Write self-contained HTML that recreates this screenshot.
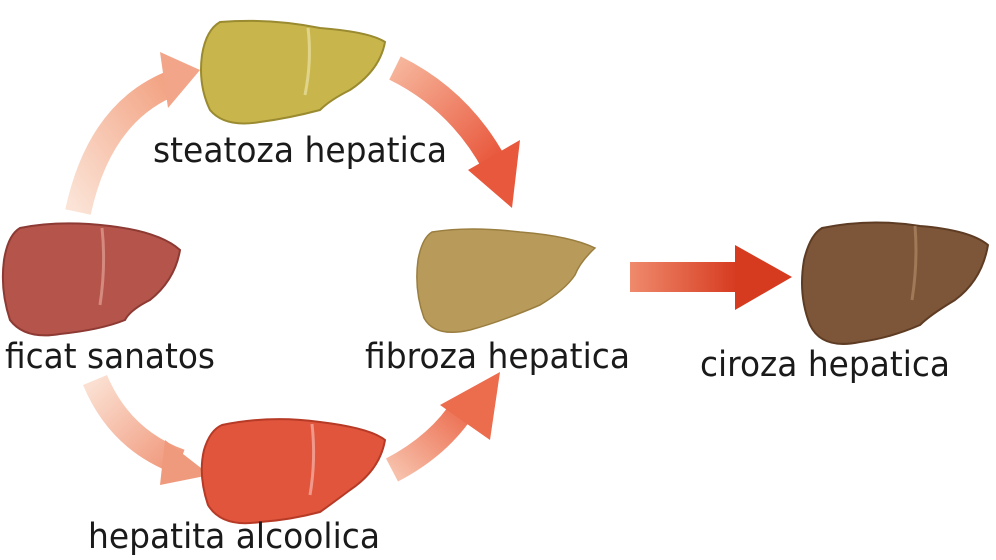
<!DOCTYPE html>
<html><head><meta charset="utf-8"><style>
html,body{margin:0;padding:0;background:#fff;width:996px;height:560px;overflow:hidden}
svg{display:block}
text{font-family:"DejaVu Sans","Liberation Sans",sans-serif;font-size:35px;fill:#1a1a1a}
</style></head><body>
<svg width="996" height="560" viewBox="0 0 996 560" xmlns="http://www.w3.org/2000/svg">
<defs>
<linearGradient id="g1" x1="0" y1="1" x2="1" y2="0"><stop offset="0" stop-color="#fbe3d6"/><stop offset="1" stop-color="#f2a07f"/></linearGradient>
<linearGradient id="g2" x1="0" y1="0" x2="1" y2="1"><stop offset="0" stop-color="#f6b49a"/><stop offset="1" stop-color="#e8553a"/></linearGradient>
<linearGradient id="g3" x1="0" y1="0" x2="1" y2="1"><stop offset="0" stop-color="#fbe0d2"/><stop offset="1" stop-color="#f0977a"/></linearGradient>
<linearGradient id="g4" x1="0" y1="1" x2="1" y2="0"><stop offset="0" stop-color="#f7c0aa"/><stop offset="1" stop-color="#eb6a4c"/></linearGradient>
<linearGradient id="g5" x1="0" y1="0" x2="1" y2="0"><stop offset="0" stop-color="#ef8a6c"/><stop offset="1" stop-color="#d63a1f"/></linearGradient>
</defs>
<path d="M78 212 Q100 110 175 82" fill="none" stroke="url(#g1)" stroke-width="26"/>
<polygon points="160,52 200,70 168,108" fill="#f2a588"/>
<path d="M395 68 Q460 100 495 165" fill="none" stroke="url(#g2)" stroke-width="26"/>
<polygon points="468,170 520,140 512,208" fill="#e8583c"/>
<path d="M95 380 Q120 440 180 462" fill="none" stroke="url(#g3)" stroke-width="26"/>
<polygon points="165,440 210,475 160,485" fill="#ef9a7c"/>
<path d="M392 470 Q440 445 465 405" fill="none" stroke="url(#g4)" stroke-width="26"/>
<polygon points="440,405 500,372 490,440" fill="#ec6c4e"/>
<rect x="630" y="262" width="108" height="30" fill="url(#g5)"/>
<polygon points="735,245 792,277 735,310" fill="#d63a1f"/>
<path d="M20 228 Q60 220 110 226 Q160 232 180 250 Q175 280 150 300 Q130 310 125 320 Q100 330 60 334 Q25 340 10 320 Q0 290 4 260 Q8 235 20 228Z" fill="#b4544a" stroke="#8c3a33" stroke-width="2"/>
<path d="M102 228 Q106 265 100 305" stroke="#d58a80" stroke-width="3" fill="none"/>
<path d="M220 22 Q270 18 320 28 Q370 32 385 42 Q380 70 350 90 Q330 100 320 110 Q290 118 260 122 Q225 128 210 110 Q198 85 202 55 Q206 30 220 22Z" fill="#c8b64c" stroke="#9a8a30" stroke-width="2"/>
<path d="M308 28 Q312 60 305 95" stroke="#e0d48a" stroke-width="3" fill="none"/>
<path d="M222 425 Q270 415 320 422 Q370 428 385 440 Q380 470 350 490 Q330 505 320 512 Q290 520 260 522 Q222 528 208 505 Q198 475 204 450 Q210 430 222 425Z" fill="#e0553c" stroke="#b63a26" stroke-width="2"/>
<path d="M312 424 Q316 460 310 495" stroke="#f0988a" stroke-width="3" fill="none"/>
<path d="M432 232 Q470 226 520 232 Q570 236 595 248 Q580 262 575 275 Q565 290 540 305 Q500 322 470 330 Q435 338 424 318 Q414 290 418 260 Q422 238 432 232Z" fill="#b89b5a" stroke="#9a7e40" stroke-width="1.5"/>
<path d="M822 228 Q870 218 920 226 Q970 230 988 245 Q982 280 955 300 Q930 315 920 325 Q890 338 860 342 Q822 350 810 325 Q798 295 804 260 Q810 235 822 228Z" fill="#7d5538" stroke="#5e3c24" stroke-width="2"/>
<path d="M915 226 Q918 262 912 300" stroke="#a07a58" stroke-width="3" fill="none"/>
<text x="153" y="162" textLength="294" lengthAdjust="spacingAndGlyphs">steatoza hepatica</text>
<text x="5" y="368" textLength="210" lengthAdjust="spacingAndGlyphs">ficat sanatos</text>
<text x="365" y="368" textLength="265" lengthAdjust="spacingAndGlyphs">fibroza hepatica</text>
<text x="700" y="376" textLength="250" lengthAdjust="spacingAndGlyphs">ciroza hepatica</text>
<text x="88" y="548" textLength="292" lengthAdjust="spacingAndGlyphs">hepatita alcoolica</text>
</svg>
</body></html>
